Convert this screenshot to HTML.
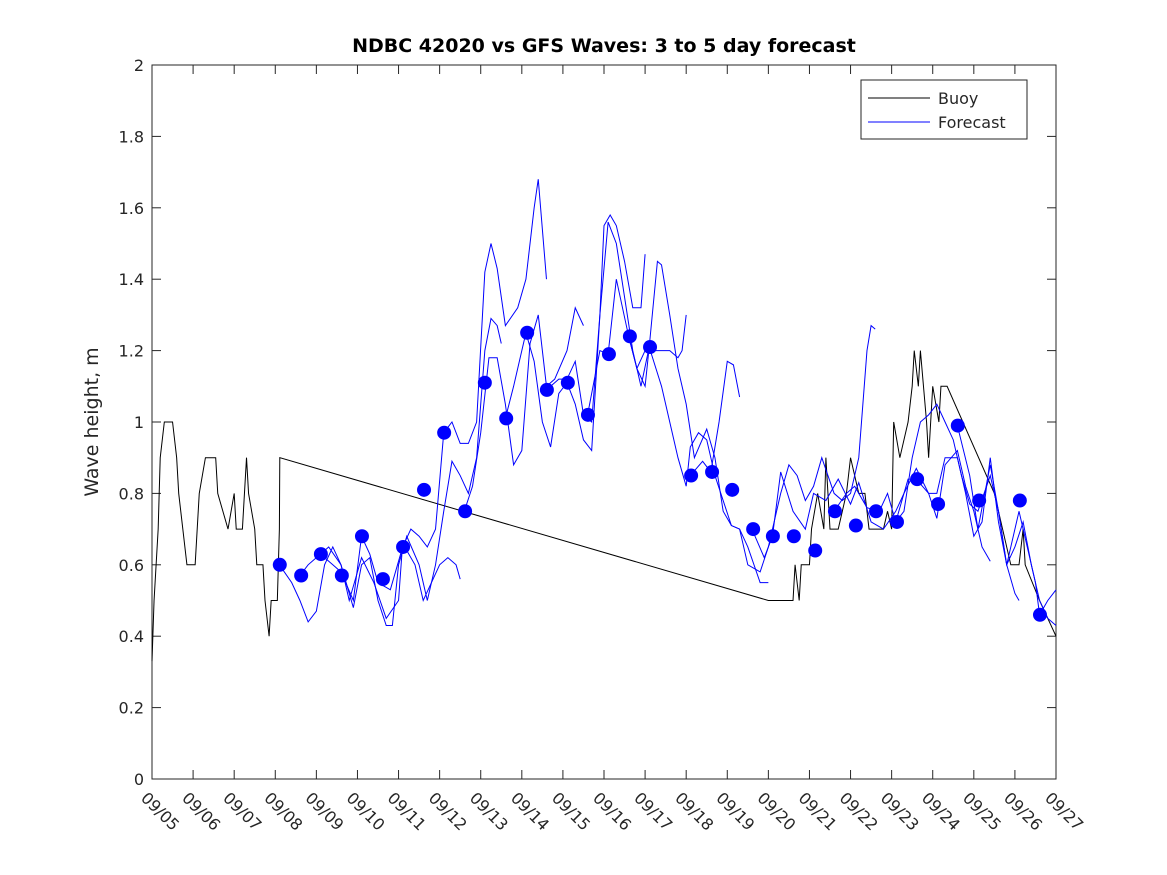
<!DOCTYPE html>
<html><head><meta charset="utf-8"><style>
body{margin:0;background:#fff;}
svg{display:block;font-family:"DejaVu Sans","Liberation Sans",sans-serif;}
</style></head><body>
<svg id="chart" width="1167" height="875">
<rect x="0" y="0" width="1167" height="875" fill="#fff"/>
<g id="plot"></g>
<text x="604" y="52" text-anchor="middle" font-size="19" font-weight="bold">NDBC 42020 vs GFS Waves: 3 to 5 day forecast</text>
<text transform="translate(98,422) rotate(-90)" text-anchor="middle" font-size="19" fill="#262626">Wave height, m</text>
<g>
<rect x="861" y="80" width="166" height="59" fill="#fff" stroke="#262626" stroke-width="1"/>
<line x1="868" y1="98" x2="930" y2="98" stroke="#000"/>
<text x="938" y="104" font-size="16" fill="#262626">Buoy</text>
<line x1="868" y1="122" x2="930" y2="122" stroke="#0000ff"/>
<text x="938" y="128" font-size="16" fill="#262626">Forecast</text>
</g>
</svg>
<script>
const xTickLabels=["09/05","09/06","09/07","09/08","09/09","09/10","09/11","09/12","09/13","09/14","09/15","09/16","09/17","09/18","09/19","09/20","09/21","09/22","09/23","09/24","09/25","09/26","09/27"];
const yTicks=[0,0.2,0.4,0.6,0.8,1,1.2,1.4,1.6,1.8,2];
const yTickLabels=["0","0.2","0.4","0.6","0.8","1","1.2","1.4","1.6","1.8","2"];
const buoyDays=[0,0.05,0.15,0.2,0.3,0.5,0.6,0.65,0.75,0.85,1.05,1.15,1.3,1.55,1.6,1.85,2.0,2.05,2.2,2.3,2.35,2.5,2.55,2.7,2.75,2.85,2.9,3.05,3.1,3.11,15.0,15.6,15.65,15.75,15.8,16.0,16.05,16.2,16.35,16.4,16.5,16.7,16.9,17.0,17.2,17.35,17.45,17.8,17.9,18.0,18.05,18.2,18.4,18.5,18.55,18.65,18.7,18.85,18.9,19.0,19.15,19.2,19.35,20.5,20.9,21.1,21.2,21.25,21.6,22];
const buoyVals=[0.33,0.5,0.7,0.9,1.0,1.0,0.9,0.8,0.7,0.6,0.6,0.8,0.9,0.9,0.8,0.7,0.8,0.7,0.7,0.9,0.8,0.7,0.6,0.6,0.5,0.4,0.5,0.5,0.7,0.9,0.5,0.5,0.6,0.5,0.6,0.6,0.7,0.8,0.7,0.9,0.7,0.7,0.8,0.9,0.8,0.8,0.7,0.7,0.75,0.7,1.0,0.9,1.0,1.1,1.2,1.1,1.2,1.0,0.9,1.1,1.0,1.1,1.1,0.8,0.6,0.6,0.7,0.6,0.5,0.4];
const dotDays=[3.11,3.63,4.11,4.62,5.11,5.62,6.11,6.62,7.11,7.62,8.10,8.62,9.13,9.61,10.12,10.61,11.12,11.63,12.12,13.12,13.63,14.12,14.63,15.11,15.62,16.14,16.62,17.13,17.62,18.13,18.62,19.13,19.61,20.13,21.12,21.61];
const dotVals=[0.60,0.57,0.63,0.57,0.68,0.56,0.65,0.81,0.97,0.75,1.11,1.01,1.25,1.09,1.11,1.02,1.19,1.24,1.21,0.85,0.86,0.81,0.70,0.68,0.68,0.64,0.75,0.71,0.75,0.72,0.84,0.77,0.99,0.78,0.78,0.46];
const fc1=[[3.1,0.6],[3.4,0.55],[3.6,0.5],[3.8,0.44],[4.0,0.47],[4.2,0.6],[4.4,0.65],[4.6,0.6],[4.9,0.48],[5.1,0.6],[5.3,0.62],[5.5,0.5],[5.7,0.43],[5.85,0.43],[6.0,0.6],[6.2,0.68],[6.5,0.6],[6.7,0.5],[6.9,0.6],[7.1,0.75],[7.3,0.89],[7.5,0.85],[7.7,0.8],[7.9,0.9],[8.1,1.2],[8.25,1.29],[8.4,1.27],[8.5,1.22]];
const fc2=[[3.6,0.57],[3.8,0.6],[4.1,0.63],[4.4,0.6],[4.6,0.58],[4.9,0.5],[5.1,0.68],[5.3,0.63],[5.5,0.55],[5.8,0.53],[6.1,0.65],[6.3,0.7],[6.5,0.68],[6.7,0.65],[6.9,0.7],[7.1,0.97],[7.3,1.0],[7.5,0.94],[7.7,0.94],[7.9,1.0],[8.1,1.42],[8.25,1.5],[8.4,1.43],[8.6,1.27],[8.9,1.32],[9.1,1.4],[9.3,1.6],[9.4,1.68],[9.6,1.4]];
const fc3=[[4.1,0.63],[4.3,0.65],[4.6,0.6],[4.8,0.5],[5.1,0.62],[5.4,0.55],[5.7,0.45],[6.0,0.5],[6.1,0.66],[6.4,0.6],[6.6,0.5],[6.8,0.55],[7.0,0.6],[7.2,0.62],[7.4,0.6],[7.5,0.56]];
const fc4=[[7.6,0.75],[7.8,0.82],[8.0,0.97],[8.2,1.18],[8.4,1.18],[8.6,1.05],[8.8,0.88],[9.0,0.92],[9.2,1.22],[9.4,1.3],[9.6,1.1],[9.8,1.12],[10.1,1.2],[10.3,1.32],[10.5,1.27]];
const fc5=[[8.6,1.01],[8.8,1.1],[9.1,1.25],[9.3,1.17],[9.5,1.0],[9.7,0.93],[9.9,1.08],[10.1,1.11],[10.3,1.05],[10.5,0.95],[10.7,0.92],[10.9,1.3],[11.0,1.55],[11.15,1.58],[11.3,1.55],[11.5,1.45],[11.7,1.32],[11.9,1.32],[12.0,1.47]];
const fc6=[[9.6,1.09],[9.9,1.12],[10.1,1.12],[10.3,1.17],[10.5,1.02],[10.7,1.0],[10.9,1.3],[11.1,1.56],[11.3,1.5],[11.5,1.35],[11.7,1.2],[11.9,1.1],[12.1,1.21],[12.3,1.45],[12.4,1.44],[12.6,1.3],[12.8,1.15],[13.0,1.05],[13.2,0.9],[13.5,0.98],[13.7,0.9],[13.9,0.75],[14.1,0.71],[14.3,0.7],[14.5,0.65],[14.8,0.55],[15.0,0.55]];
const fc7=[[10.6,1.02],[10.9,1.2],[11.1,1.19],[11.3,1.4],[11.6,1.24],[11.8,1.15],[12.0,1.2],[12.2,1.2],[12.4,1.2],[12.6,1.2],[12.8,1.18],[12.9,1.2],[13.0,1.3]];
const fc8=[[11.6,1.24],[11.8,1.15],[12.0,1.1],[12.1,1.21],[12.4,1.1],[12.6,1.0],[12.8,0.9],[13.0,0.82],[13.1,0.93],[13.3,0.97],[13.5,0.95],[13.7,0.85],[13.9,0.78],[14.1,0.71],[14.3,0.7],[14.5,0.6],[14.8,0.58],[15.0,0.65],[15.3,0.8],[15.5,0.88],[15.7,0.85],[15.9,0.78],[16.1,0.82],[16.3,0.9],[16.6,0.8],[16.8,0.78],[17.0,0.8],[17.2,0.9],[17.4,1.2],[17.5,1.27],[17.6,1.26]];
const fc9=[[13.1,0.85],[13.4,0.89],[13.6,0.86],[13.8,1.0],[14.0,1.17],[14.15,1.16],[14.3,1.07]];
const fc10=[[14.6,0.7],[14.9,0.62],[15.1,0.68],[15.3,0.86],[15.6,0.75],[15.9,0.7],[16.1,0.8],[16.4,0.78],[16.7,0.84],[17.0,0.77],[17.2,0.83],[17.5,0.72],[17.8,0.7],[18.1,0.75],[18.3,0.8],[18.6,0.87],[18.9,0.8],[19.1,0.73],[19.3,0.88],[19.6,0.92],[19.8,0.82],[20.0,0.75],[20.2,0.65],[20.4,0.61]];
const fc11=[[16.6,0.75],[16.9,0.8],[17.1,0.82],[17.4,0.76],[17.7,0.75],[17.9,0.8],[18.1,0.72],[18.4,0.84],[18.6,0.84],[18.9,0.8],[19.1,0.8],[19.3,0.9],[19.6,0.9],[19.8,0.8],[20.0,0.68],[20.2,0.72],[20.4,0.9],[20.6,0.72],[20.8,0.6],[21.0,0.52],[21.1,0.5]];
const fc12=[[18.1,0.72],[18.3,0.75],[18.5,0.9],[18.7,1.0],[18.9,1.02],[19.1,1.05],[19.3,1.0],[19.5,0.95],[19.7,0.85],[19.9,0.77],[20.1,0.75],[20.4,0.85],[20.6,0.75],[20.8,0.6],[21.0,0.65],[21.2,0.72],[21.4,0.6],[21.6,0.5],[21.8,0.45],[22,0.43]];
const fc13=[[19.6,0.99],[19.9,0.85],[20.1,0.7],[20.4,0.88],[20.6,0.75],[20.8,0.6],[21.1,0.75],[21.3,0.65],[21.5,0.55],[21.6,0.46],[21.8,0.5],[22,0.53]];
const forecasts=[fc1,fc2,fc3,fc4,fc5,fc6,fc7,fc8,fc9,fc10,fc11,fc12,fc13];

const X0=152,X1=1056,Y0=779,Y1=65,DMAX=22,VMAX=2;
const xs=d=>X0+(X1-X0)*d/DMAX;
const ys=v=>Y0-(Y0-Y1)*v/VMAX;
const NS="http://www.w3.org/2000/svg";
const plot=document.getElementById('plot');
function mk(tag,attrs,parent){const e=document.createElementNS(NS,tag);for(const k in attrs)e.setAttribute(k,attrs[k]);(parent||plot).appendChild(e);return e;}

const frame=mk('rect',{x:X0,y:Y1,width:X1-X0,height:Y0-Y1,fill:'#fff',stroke:'#262626','stroke-width':1});



xTickLabels.forEach((lab,i)=>{
  const x=xs(i);
  const t1=mk('line',{x1:x,y1:Y0,x2:x,y2:Y0-9,stroke:'#262626'});
  
  
  const t2=mk('line',{x1:x,y1:Y1,x2:x,y2:Y1+9,stroke:'#262626'});
  
  
  const tx=mk('text',{transform:`translate(${x-12},${Y0+20}) rotate(45)`,'font-size':16,fill:'#262626'});
  tx.textContent=lab;
  
  
});
yTicks.forEach((v,i)=>{
  const y=ys(v);
  const t1=mk('line',{x1:X0,y1:y,x2:X0+9,y2:y,stroke:'#262626'});
  
  
  const t2=mk('line',{x1:X1,y1:y,x2:X1-9,y2:y,stroke:'#262626'});
  
  
  const tx=mk('text',{x:X0-8,y:y+6,'text-anchor':'end','font-size':16,fill:'#262626'});
  tx.textContent=yTickLabels[i];
  
  
});

const buoy=mk('polyline',{points:buoyDays.map((d,i)=>xs(d)+','+ys(buoyVals[i])).join(' '),fill:'none',stroke:'#000','stroke-width':1});



forecasts.forEach(f=>{
  const p=mk('polyline',{points:f.map(q=>xs(q[0])+','+ys(q[1])).join(' '),fill:'none',stroke:'#0000ff','stroke-width':1});
  
  
});

dotDays.forEach((d,i)=>{
  const c=mk('circle',{cx:xs(d),cy:ys(dotVals[i]),r:7,fill:'#0000ff'});
  
  
});
</script>
</body></html>
